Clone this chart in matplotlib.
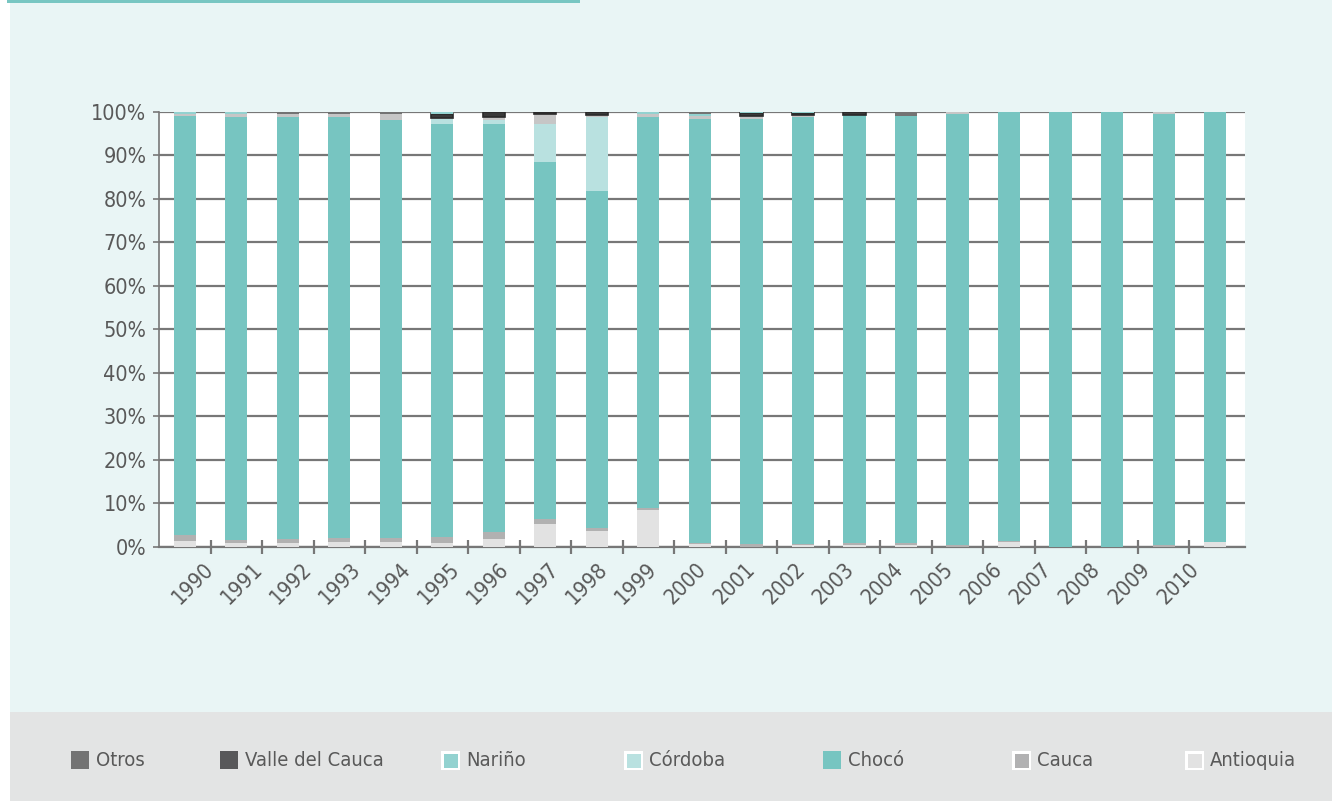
import numpy as np
import matplotlib
matplotlib.use('Agg')
import matplotlib.pyplot as plt
from matplotlib.patches import Rectangle

plt.rcParams['font.family'] = ['DejaVu Sans']
plt.rcParams['font.stretch'] = 'condensed'

# ---------------- data (percent of total per year) ----------------
years = ['1990', '1991', '1992', '1993', '1994', '1995', '1996', '1997', '1998', '1999', '2000',
         '2001', '2002', '2003', '2004', '2005', '2006', '2007', '2008', '2009', '2010']
antioquia = [1.3, 0.8, 0.9, 1.15, 1.15, 0.9, 1.8, 5.3, 3.7, 8.5, 0.7,
             0.0, 0.5, 0.3, 0.45, 0.0, 1.1, 0.0, 0.0, 0.0, 1.0]
cauca = [1.4, 0.8, 0.85, 0.9, 0.9, 1.3, 1.6, 1.1, 0.7, 0.5, 0.25,
         0.6, 0.2, 0.6, 0.45, 0.3, 0.2, 0.0, 0.0, 0.3, 0.0]
choco = [96.2, 97.1, 97.1, 96.8, 96.15, 94.95, 93.7, 82.0, 77.4, 89.75, 97.45,
         97.75, 98.1, 98.3, 98.1, 99.1, 98.7, 100.0, 100.0, 99.1, 99.0]
cordoba = [0.0, 0.0, 0.0, 0.0, 0.0, 1.15, 1.1, 8.7, 16.9, 0.0, 0.0,
           0.0, 0.0, 0.0, 0.0, 0.0, 0.0, 0.0, 0.0, 0.0, 0.0]
gris_sin_leyenda = [0.6, 0.7, 0.55, 0.55, 1.2, 0.25, 0.6, 2.3, 0.55, 0.7, 0.6,
                    0.6, 0.45, 0.0, 0.0, 0.6, 0.0, 0.0, 0.0, 0.6, 0.0]
valle = [0.0, 0.0, 0.0, 0.0, 0.0, 1.0, 1.2, 0.6, 0.75, 0.0, 0.0,
         0.8, 0.5, 0.8, 0.0, 0.0, 0.0, 0.0, 0.0, 0.0, 0.0]
narino = [0.5, 0.6, 0.0, 0.0, 0.0, 0.45, 0.0, 0.0, 0.0, 0.55, 0.45,
          0.25, 0.25, 0.0, 0.0, 0.0, 0.0, 0.0, 0.0, 0.0, 0.0]
otros = [0.0, 0.0, 0.6, 0.6, 0.6, 0.0, 0.0, 0.0, 0.0, 0.0, 0.55,
         0.0, 0.0, 0.0, 1.0, 0.0, 0.0, 0.0, 0.0, 0.0, 0.0]

y_ticks = [0, 10, 20, 30, 40, 50, 60, 70, 80, 90, 100]
y_labels = ['0%', '10%', '20%', '30%', '40%', '50%', '60%', '70%', '80%', '90%', '100%']

legend_labels = ['Otros', 'Valle del Cauca', 'Nariño', 'Córdoba', 'Chocó', 'Cauca', 'Antioquia']

# ---------------- styles ----------------
stack = [
    (antioquia, '#E2E2E2', None),
    (cauca, '#B1B1B1', None),
    (choco, '#77C5C1', None),
    (cordoba, '#B9E1E0', None),
    (gris_sin_leyenda, '#C6C6C6', None),
    (valle, '#3A3A3A', '#2A2A2A'),
    (narino, '#93D2D0', None),
    (otros, '#737373', None),
]
legend_colors = ['#737373', '#58585A', '#93D2D0', '#B9E1E0', '#77C5C1', '#B1B1B2', '#E2E2E2']
legend_border = [False, False, True, True, False, True, True]
legend_x_px = [71, 220, 441, 624, 823, 1012, 1185]

TXT = '#595959'
GRID = '#777777'
FS = 15
W, H = 1335, 801

fig = plt.figure(figsize=(W / 100, H / 100), dpi=100, facecolor='white')

def px_rect(x0, y0, x1, y1, **kw):
    r = Rectangle((x0 / W, 1 - y1 / H), (x1 - x0) / W, (y1 - y0) / H,
                  transform=fig.transFigure, **kw)
    fig.patches.append(r)
    return r

# backgrounds
px_rect(10, 0, 1332, 712, facecolor='#E9F5F5', edgecolor='none', zorder=-10)
px_rect(10, 712, 1332, 801, facecolor='#E3E4E4', edgecolor='none', zorder=-10)
px_rect(7, 0, 580, 2.5, facecolor='#78C6C2', edgecolor='none', zorder=-9)

# axes
ax_l, ax_r, ax_t, ax_b = 159, 1245, 111.7, 546.7
ax = fig.add_axes([ax_l / W, 1 - ax_b / H, (ax_r - ax_l) / W, (ax_b - ax_t) / H])
ax.set_zorder(5)
ax.set_facecolor('white')

x = np.arange(len(years))
bottom = np.zeros(len(years))
for vals, col, ec in stack:
    v = np.array(vals)
    if ec is None:
        ax.bar(x, v, width=0.43, bottom=bottom, color=col, edgecolor='none', zorder=3)
    else:
        ax.bar(x, v, width=0.43, bottom=bottom, color=col, edgecolor=ec,
               linewidth=np.where(v > 0, 1.2, 0), zorder=3)
    bottom += v

ax.set_xlim(-0.5, len(years) - 0.42)
ax.set_ylim(0, 100)

ax.set_yticks(y_ticks)
ax.set_yticklabels(y_labels, fontsize=FS + 0.5, color=TXT)
ax.yaxis.grid(True, color=GRID, linewidth=1.6, zorder=1)
ax.set_axisbelow(True)
ax.tick_params(axis='y', length=4, width=1.2, color=GRID, pad=5, left=True)

for s in ['top', 'right']:
    ax.spines[s].set_visible(False)
ax.spines['left'].set_color(GRID)
ax.spines['left'].set_linewidth(1.2)
ax.spines['bottom'].set_color(GRID)
ax.spines['bottom'].set_linewidth(1.6)

# category boundary ticks
ax.set_xticks(x[:-1] + 0.5)
ax.set_xticklabels([])
ax.tick_params(axis='x', direction='inout', length=10, width=1.6, color=GRID)

# rotated year labels
label_px = np.linspace(203, 1189, len(years))
for lx, yr in zip(label_px, years):
    fig.text(lx / W, 1 - 559 / H, yr, rotation=45, rotation_mode='anchor',
             ha='right', va='top', fontsize=FS + 0.5, color=TXT)

# legend
sq = 17
for lbl, col, bd, lx in zip(legend_labels, legend_colors, legend_border, legend_x_px):
    if bd:
        px_rect(lx, 751, lx + sq + 2, 770, facecolor='white', edgecolor='none', zorder=2)
        px_rect(lx + 2.5, 753.5, lx + sq - 0.5, 767.5, facecolor=col, edgecolor='none', zorder=3)
    else:
        px_rect(lx, 751, lx + sq + 1, 769, facecolor=col, edgecolor='none', zorder=2)
    fig.text((lx + 25) / W, 1 - 760 / H, lbl, ha='left', va='center', fontsize=FS - 0.5, color=TXT)

fig.savefig('out.png', dpi=100, facecolor='white')
